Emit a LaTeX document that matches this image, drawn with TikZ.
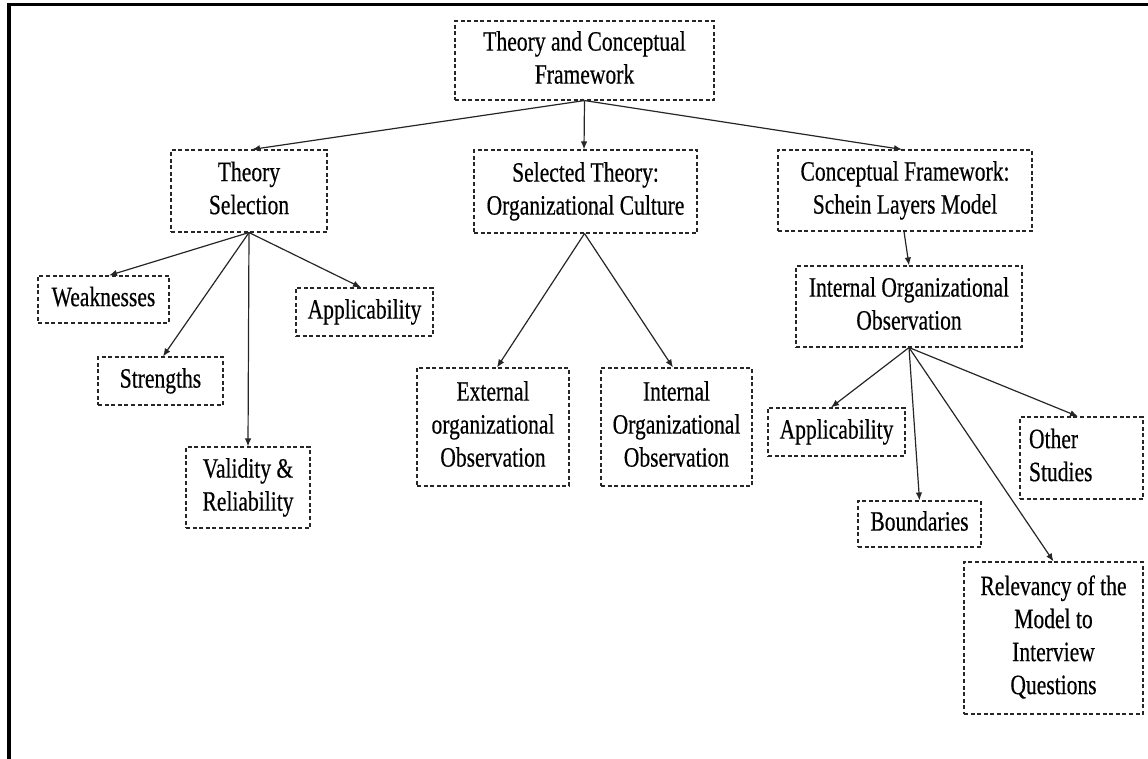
\documentclass[tikz,border=0pt]{standalone}
\usepackage{fontspec}
\usepackage{graphicx}
\newfontfamily\tnr{Liberation Serif}[FakeBold=0.5]
\usetikzlibrary{arrows.meta}
% narrow-set text block, centred or left-aligned lines
\newcommand\tc[1]{\scalebox{0.77}[1]{\begin{tabular}{@{}c@{}}#1\end{tabular}}}
\newcommand\tl[1]{\scalebox{0.77}[1]{\begin{tabular}{@{}l@{}}#1\end{tabular}}}
\begin{document}
\begin{tikzpicture}[x=1pt,y=-1pt,
  box/.style={draw=black!85, line width=1.1pt, dash pattern=on 4pt off 2.6pt,
    inner sep=0pt, align=center, font=\tnr\fontsize{28}{33}\selectfont},
  link/.style={draw=black!85, line width=1.2pt, -{Latex[length=8pt,width=6.5pt]}}]
\useasboundingbox (0,0) rectangle (1148,759);
% frame
\draw[line width=3.4pt, line join=miter] (9,759) -- (9,4.7) -- (1148,4.7);

% boxes
\node[box, minimum width=259pt, minimum height=79pt] (top) at (584.5,60.5) {\tc{Theory and Conceptual\\Framework}};
\node[box, minimum width=156pt, minimum height=82pt] (ts) at (249,191) {\tc{Theory\\Selection}};
\node[box, minimum width=223pt, minimum height=83pt] (st) at (585.5,191.5) {\tc{Selected Theory:\\Organizational Culture}};
\node[box, minimum width=254pt, minimum height=81pt] (cf) at (905,190.5) {\tc{Conceptual Framework:\\Schein Layers Model}};
\node[box, minimum width=226pt, minimum height=81pt] (ioo) at (909,306.5) {\tc{Internal Organizational\\Observation}};

\node[box, minimum width=131pt, minimum height=47pt] (weak) at (103.5,299.5) {\tc{Weaknesses}};
\node[box, minimum width=125pt, minimum height=48pt] (str) at (160.5,381) {\tc{Strengths}};
\node[box, minimum width=137pt, minimum height=48pt] (appa) at (364.5,312) {\tc{Applicability}};
\node[box, minimum width=124pt, minimum height=81pt] (val) at (248,487.5) {\tc{Validity \&\\Reliability}};

\node[box, minimum width=152pt, minimum height=118pt] (ext) at (493,427) {\tc{External\\organizational\\Observation}};
\node[box, minimum width=151pt, minimum height=118pt] (int) at (676.5,427) {\tc{Internal\\Organizational\\Observation}};

\node[box, minimum width=137pt, minimum height=48pt] (appb) at (836.5,432) {\tc{Applicability}};
\node[box, minimum width=123pt, minimum height=46pt] (bnd) at (919.5,524) {\tc{Boundaries}};
\node[box, minimum width=123pt, minimum height=82pt, text width=105pt, align=left] (oth) at (1081.5,458) {\tl{Other\\Studies}};
\node[box, minimum width=179pt, minimum height=152pt] (rel) at (1053.5,638) {\tc{\fontsize{28}{34.5}\selectfont Relevancy of the\\Model to\\Interview\\Questions}};

% connectors
\draw[link] (top.south) -- ([xshift=3pt]ts.north);
\draw[link] (top.south) -- ([xshift=-1.5pt]st.north);
\draw[link] (top.south) -- ([xshift=-3pt]cf.north);
\draw[link] ([xshift=-1pt]cf.south) -- (ioo.north);

\draw[link] (ts.south) -- ([xshift=5.5pt]weak.north);
\draw[link] (ts.south) -- ([xshift=2.5pt]str.north);
\draw[link] (ts.south) -- (val.north);
\draw[link] (ts.south) -- ([xshift=-3.5pt]appa.north);

\draw[link] ([xshift=-1pt]st.south) -- ([xshift=4pt]ext.north);
\draw[link] ([xshift=-1pt]st.south) -- ([xshift=-3.5pt]int.north);

\draw[link] (ioo.south) -- ([xshift=-5.5pt]appb.north);
\draw[link] (ioo.south) -- (bnd.north);
\draw[link] (ioo.south) -- (rel.north);
\draw[link] (ioo.south) -- ([xshift=-3.5pt]oth.north);
\end{tikzpicture}
\end{document}
